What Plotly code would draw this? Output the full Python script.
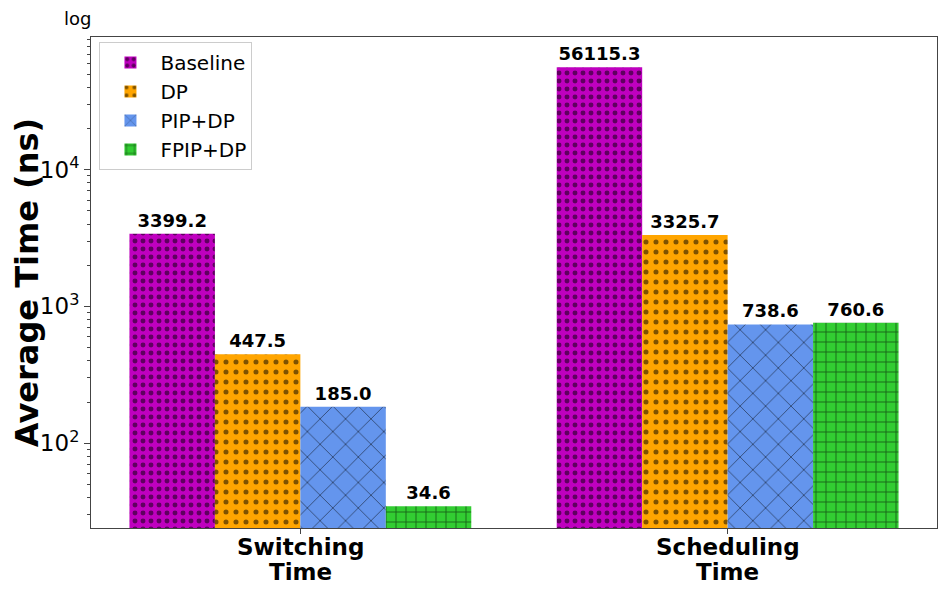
import plotly.graph_objects as go

categories = ["Switching Time", "Scheduling Time"]
label_line1 = ["Switching", "Scheduling"]
label_line2 = ["Time", "Time"]
series_names = ["Baseline", "DP", "PIP+DP", "FPIP+DP"]
baseline = [3399.2, 56115.3]
dp = [447.5, 3325.7]
pip_dp = [185.0, 738.6]
fpip_dp = [34.6, 760.6]
values = [baseline, dp, pip_dp, fpip_dp]

colors = ["#BF00BF", "#FFA500", "#6495ED", "#32CD32"]
patterns = [
    dict(shape=".", fgcolor="black", bgcolor="#BF00BF", size=8, solidity=0.3),
    dict(shape=".", fgcolor="black", bgcolor="#FFA500", size=10, solidity=0.2),
    dict(shape="x", fgcolor="black", bgcolor="#6495ED", size=18, solidity=0.1),
    dict(shape="+", fgcolor="black", bgcolor="#32CD32", size=10, solidity=0.18),
]

fig = go.Figure()
for name, vals, col, pat in zip(series_names, values, colors, patterns):
    fig.add_trace(go.Bar(
        x=categories, y=vals, name=name,
        marker=dict(color=col, pattern=pat, line=dict(width=0)),
        text=[f"{v:.1f}" for v in vals],
        textposition="outside",
        textfont=dict(family="DejaVu Sans", size=18, color="black", weight="bold"),
        cliponaxis=False,
    ))

# page body adds ~8px offset; compensate
fig.update_layout(
    width=939, height=584,
    margin=dict(l=83, r=10, t=29, b=64),
    paper_bgcolor="white", plot_bgcolor="white",
    barmode="group", bargap=0.2, bargroupgap=0,
    font=dict(family="DejaVu Sans", color="black"),
    showlegend=True,
    legend=dict(x=0.01, y=0.99, xanchor="left", yanchor="top",
                bgcolor="rgba(255,255,255,0.8)", bordercolor="#CCCCCC", borderwidth=1,
                font=dict(size=20), itemsizing="constant", itemwidth=50, tracegroupgap=4),
)
fig.update_xaxes(
    range=[-0.49, 1.49], automargin=False,
    tickvals=categories, showticklabels=False,
    showline=True, linecolor="#444", linewidth=1, mirror=True,
    ticks="outside", ticklen=5, tickcolor="#444",
    showgrid=False,
)
fig.update_yaxes(
    type="log", range=[1.38, 4.97], automargin=False,
    showline=True, linecolor="#444", linewidth=1, mirror=True,
    tickvals=[100, 1000, 10000],
    ticktext=["10<sup>2</sup>", "10<sup>3</sup>", "10<sup>4</sup>"],
    ticks="outside", ticklen=6, tickcolor="#444",
    tickfont=dict(size=23, family="DejaVu Sans", color="black"),
    minor=dict(ticks="outside", ticklen=3, tickcolor="#444",
               tickvals=[30, 40, 50, 60, 70, 80, 90, 200, 300, 400, 500, 600, 700, 800, 900,
                         2000, 3000, 4000, 5000, 6000, 7000, 8000, 9000,
                         20000, 30000, 40000, 50000, 60000, 70000, 80000, 90000]),
    showgrid=False,
    title=dict(text="<b>Average Time (ns)</b>", font=dict(size=32, family="DejaVu Sans"), standoff=6),
)
for cat, l1, l2 in zip(categories, label_line1, label_line2):
    fig.add_annotation(text=f"<b>{l1}</b>", x=cat, xref="x", yref="paper", y=0, yshift=-4,
                       xanchor="center", yanchor="top", showarrow=False,
                       font=dict(size=23, family="DejaVu Sans", color="black"))
    fig.add_annotation(text=f"<b>{l2}</b>", x=cat, xref="x", yref="paper", y=0, yshift=-29,
                       xanchor="center", yanchor="top", showarrow=False,
                       font=dict(size=23, family="DejaVu Sans", color="black"))
fig.add_annotation(text="log", xref="paper", yref="paper", x=-0.034, y=1.012,
                   xanchor="left", yanchor="bottom", showarrow=False,
                   font=dict(size=18, family="DejaVu Sans", color="black"))

fig.write_html("out.html")
